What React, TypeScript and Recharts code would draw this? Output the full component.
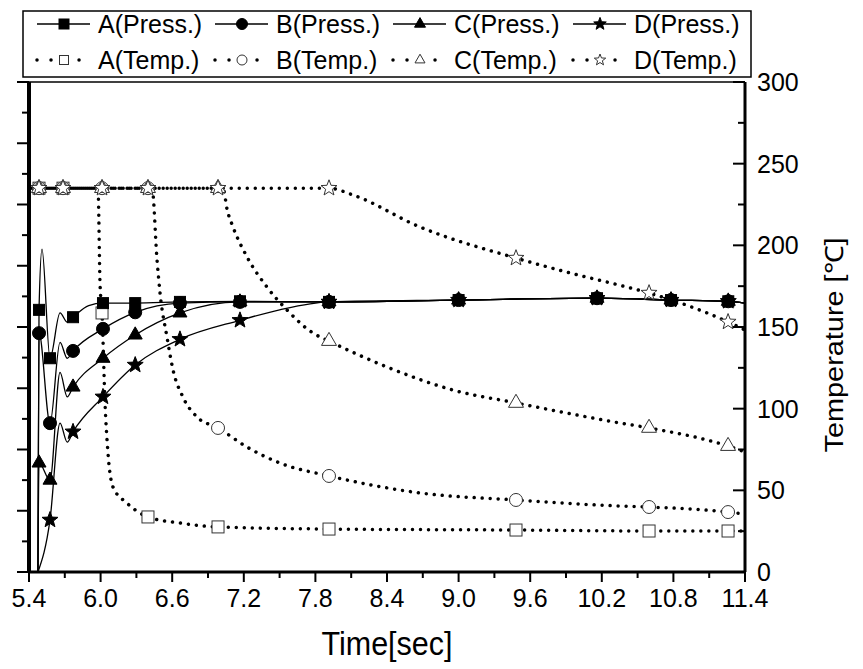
import { LineChart, Line, XAxis, YAxis, ReferenceLine } from 'recharts';

// time [sec] / pressure pairs
const pressA = [[5.475, 0], [5.484, 4.28], [5.509, 5.27], [5.576, 3.49], [5.66, 4.23], [5.72, 4.08], [5.769, 4.16], [5.9, 4.35], [6.02, 4.39], [6.29, 4.39], [6.665, 4.41], [7.168, 4.42], [7.914, 4.41], [9.0, 4.44], [10.16, 4.47], [10.78, 4.44], [11.26, 4.42], [11.4, 4.39]];
const pressB = [[5.475, 0], [5.484, 3.9], [5.576, 2.43], [5.66, 3.75], [5.72, 3.49], [5.769, 3.61], [6.02, 3.97], [6.29, 4.24], [6.665, 4.39], [7.168, 4.41], [7.914, 4.41], [9.0, 4.44], [10.16, 4.47], [10.78, 4.44], [11.26, 4.42], [11.4, 4.39]];
const pressC = [[5.475, 0], [5.484, 1.78], [5.576, 1.5], [5.66, 3.26], [5.72, 2.86], [5.769, 3.02], [6.02, 3.49], [6.29, 3.87], [6.665, 4.23], [7.168, 4.41], [7.914, 4.41], [9.0, 4.44], [10.16, 4.47], [10.78, 4.44], [11.26, 4.42], [11.4, 4.39]];
const pressD = [[5.475, 0], [5.576, 0.85], [5.66, 2.43], [5.72, 2.12], [5.769, 2.29], [6.02, 2.86], [6.29, 3.38], [6.665, 3.8], [7.168, 4.11], [7.5, 4.28], [7.914, 4.41], [9.0, 4.44], [10.16, 4.47], [10.78, 4.44], [11.26, 4.42], [11.4, 4.39]];

// time [sec] / temperature [℃] pairs for the right axis
// (plateau start times differ slightly so the four dotted lines interleave into a solid band)
const tempA = [[5.467, 235], [5.484, 235], [5.685, 235], [5.978, 235], [5.995, 177], [6.012, 158.6], [6.037, 103.5], [6.062, 72.8], [6.104, 52], [6.221, 42.2], [6.397, 33.7], [6.665, 30], [6.984, 27.6], [7.914, 26.3], [9.481, 25.7], [10.596, 25.1], [11.258, 25.1], [11.4, 25.1]];
const tempB = [[5.4335, 235], [5.484, 235], [5.685, 235], [6.012, 235], [6.397, 235], [6.431, 235], [6.473, 191], [6.498, 170.8], [6.556, 143.9], [6.607, 123.7], [6.69, 107.1], [6.808, 94.9], [6.984, 88.2], [7.227, 76.5], [7.503, 66.7], [7.914, 58.8], [8.677, 48.4], [9.481, 44.1], [10.353, 40.4], [10.596, 39.8], [11.258, 36.7], [11.4, 35.5]];
const tempC = [[5.4502, 235], [5.484, 235], [5.685, 235], [6.012, 235], [6.397, 235], [6.984, 235], [7.026, 235], [7.06, 222], [7.11, 211.2], [7.227, 192.9], [7.394, 174.5], [7.562, 160.4], [7.78, 146.3], [7.914, 141.4], [8.4, 125.5], [8.953, 111.4], [9.481, 103.5], [10.353, 91.2], [10.596, 88.2], [11.258, 77.1], [11.4, 73.5]];
const tempD = [[5.4167, 235], [5.484, 235], [5.685, 235], [6.012, 235], [6.397, 235], [6.984, 235], [7.914, 235], [8.115, 230.8], [8.677, 211.2], [9.481, 192.2], [9.934, 183.1], [10.353, 175.5], [10.596, 170.8], [11.258, 153.1], [11.4, 148.2]];

// times at which symbols are drawn
const pressMarks = [5.484, 5.576, 5.769, 6.02, 6.29, 6.665, 7.168, 7.914, 9.0, 10.16, 10.78, 11.26];
const tempMarks = [5.484, 5.685, 6.012, 6.397, 6.984, 7.914, 9.481, 10.596, 11.258];

const timeTicks = [5.4, 5.7, 6.0, 6.3, 6.6, 6.9, 7.2, 7.5, 7.8, 8.1, 8.4, 8.7, 9.0, 9.3, 9.6, 9.9, 10.2, 10.5, 10.8, 11.1, 11.4];
const pressTicks = [0, 0.5, 1, 1.5, 2, 2.5, 3, 3.5, 4, 4.5, 5, 5.5, 6, 6.5, 7, 7.5, 8];
const tempTicks = [0, 25, 50, 75, 100, 125, 150, 175, 200, 225, 250, 275, 300];

const letters = ['A', 'B', 'C', 'D'];
const shapes = ['square', 'circle', 'triangle', 'star'];
const pressSeries = [pressA, pressB, pressC, pressD];
const tempSeries = [tempA, tempB, tempC, tempD];

const FONT = '"Liberation Sans", Arial, sans-serif';
const DOT_GAP = 8;

const toRows = (pairs: number[][]) => pairs.map(([t, v]) => ({ t, v }));

function starPoints(cx: number, cy: number, r: number) {
  const pts: string[] = [];
  for (let i = 0; i < 10; i++) {
    const rr = i % 2 ? r * 0.42 : r;
    const a = -Math.PI / 2 + (i * Math.PI) / 5;
    pts.push(`${cx + rr * Math.cos(a)},${cy + rr * Math.sin(a)}`);
  }
  return pts.join(' ');
}

function Marker({ shape, cx, cy, size, filled }: { shape: string; cx: number; cy: number; size: number; filled: boolean }) {
  const fill = filled ? '#000' : '#fff';
  const stroke = filled ? '#000' : '#333';
  const sw = 1;
  if (shape === 'square') {
    return <rect x={cx - size / 2} y={cy - size / 2} width={size} height={size} fill={fill} stroke={stroke} strokeWidth={sw} />;
  }
  if (shape === 'circle') {
    return <circle cx={cx} cy={cy} r={size / 2} fill={fill} stroke={stroke} strokeWidth={sw} />;
  }
  if (shape === 'triangle') {
    const h = size * 0.87;
    return (
      <polygon
        points={`${cx},${cy - (h * 2) / 3} ${cx - size / 2},${cy + h / 3} ${cx + size / 2},${cy + h / 3}`}
        fill={fill}
        stroke={stroke}
        strokeWidth={sw}
      />
    );
  }
  return <polygon points={starPoints(cx, cy, size * 0.6)} fill={fill} stroke={stroke} strokeWidth={sw} />;
}

const makeDot = (marks: number[], shape: string, filled: boolean, size: number) => (props: any) => {
  const { cx, cy, payload, index } = props;
  if (cx == null || cy == null || !marks.some((m) => Math.abs(m - payload.t) < 1e-4)) return <g key={index} />;
  return (
    <g key={index}>
      <Marker shape={shape} cx={cx} cy={cy} size={size} filled={filled} />
    </g>
  );
};

const BottomTick = (props: any) => {
  const { x, y, payload } = props;
  const v = payload.value;
  const major = Math.round((v - 5.4) / 0.3) % 2 === 0;
  return (
    <g>
      <line x1={x} x2={x} y1={y} y2={y + (major ? 10 : 6)} stroke="#000" strokeWidth={2} />
      {major && (
        <text x={x} y={y + 35} textAnchor="middle" fontSize={25} fontFamily={FONT} fill="#000">
          {v.toFixed(1)}
        </text>
      )}
    </g>
  );
};

const LeftTick = (props: any) => {
  const { x, y, payload } = props;
  const major = Number.isInteger(payload.value);
  return <line x1={x - (major ? 12 : 7)} x2={x} y1={y} y2={y} stroke="#000" strokeWidth={2} />;
};

const RightTick = (props: any) => {
  const { x, y, payload } = props;
  const v = payload.value;
  const major = v % 50 === 0;
  return (
    <g>
      <line x1={x - (major ? 12 : 7)} x2={x} y1={y} y2={y} stroke="#000" strokeWidth={2} />
      {major && (
        <text x={x + 12} y={y + 9} textAnchor="start" fontSize={25} fontFamily={FONT} fill="#000">
          {v}
        </text>
      )}
    </g>
  );
};

function LegendBox() {
  const starts = [37, 215, 393, 573];
  return (
    <svg width={863} height={90} style={{ position: 'absolute', left: 0, top: 0, pointerEvents: 'none' }}>
      <rect x={23} y={11} width={728} height={66} fill="#fff" stroke="#000" strokeWidth={1.5} />
      {letters.map((l, i) => (
        <g key={l}>
          <line x1={starts[i]} x2={starts[i] + 53} y1={24} y2={24} stroke="#000" strokeWidth={1.3} />
          <Marker shape={shapes[i]} cx={starts[i] + 27} cy={24} size={shapes[i] === 'square' ? 10 : 11} filled />
          <text x={starts[i] + 61} y={33} fontSize={25} fontFamily={FONT} fill="#000">
            {`${l}(Press.)`}
          </text>
          <line
            x1={starts[i]}
            x2={starts[i] + 53}
            y1={60}
            y2={60}
            stroke="#000"
            strokeWidth={3.5}
            strokeLinecap="round"
            strokeDasharray={`0.01 14`}
          />
          <Marker shape={shapes[i]} cx={starts[i] + 27} cy={60} size={shapes[i] === 'square' ? 9 : 10} filled={false} />
          <text x={starts[i] + 61} y={69} fontSize={25} fontFamily={FONT} fill="#000">
            {`${l}(Temp.)`}
          </text>
        </g>
      ))}
    </svg>
  );
}

export default function App() {
  return (
    <div style={{ position: 'absolute', left: 0, top: 0, width: 863, height: 669, background: '#fff', fontFamily: FONT }}>
      <LineChart width={863} height={669} margin={{ top: 82, right: 0, bottom: 0, left: 0 }}>
        <XAxis
          dataKey="t"
          type="number"
          domain={[5.4, 11.4]}
          ticks={timeTicks}
          interval={0}
          height={97}
          tickSize={0}
          tickMargin={0}
          tickLine={false}
          tick={<BottomTick />}
          axisLine={{ stroke: '#000', strokeWidth: 3 }}
          allowDataOverflow
          label={{
            content: (p: any) => {
              const vb = p.viewBox ?? { x: 29, y: 572, width: 716, height: 97 };
              return (
                <text
                  x={vb.x + vb.width / 2}
                  y={vb.y + 83}
                  textAnchor="middle"
                  fontSize={33}
                  fontFamily={FONT}
                  textLength={131}
                  lengthAdjust="spacingAndGlyphs"
                  fill="#000"
                >
                  Time[sec]
                </text>
              );
            },
          }}
        />
        <YAxis
          yAxisId="p"
          orientation="left"
          type="number"
          domain={[0, 8]}
          ticks={pressTicks}
          interval={0}
          width={29}
          tickSize={0}
          tickMargin={0}
          tickLine={false}
          tick={<LeftTick />}
          axisLine={{ stroke: '#000', strokeWidth: 4 }}
        />
        <YAxis
          yAxisId="T"
          orientation="right"
          type="number"
          domain={[0, 300]}
          ticks={tempTicks}
          interval={0}
          width={118}
          tickSize={0}
          tickMargin={0}
          tickLine={false}
          tick={<RightTick />}
          axisLine={{ stroke: '#000', strokeWidth: 3 }}
          label={{
            content: (p: any) => {
              const vb = p.viewBox ?? { x: 745, y: 82, width: 118, height: 490 };
              const cx = vb.x + 98;
              const cy = vb.y + vb.height / 2 + 18;
              return (
                <text
                  transform={`translate(${cx}, ${cy}) rotate(-90)`}
                  textAnchor="middle"
                  fontSize={25}
                  fontFamily={FONT}
                  textLength={215}
                  lengthAdjust="spacingAndGlyphs"
                  fill="#000"
                >
                  Temperature [℃]
                </text>
              );
            },
          }}
        />
        <ReferenceLine yAxisId="T" y={300} stroke="#000" strokeWidth={1.5} />
        {tempSeries.map((s, i) => (
          <Line
            key={`T${letters[i]}`}
            yAxisId="T"
            data={toRows(s)}
            dataKey="v"
            type="monotone"
            stroke="#000"
            strokeWidth={3.5}
            strokeLinecap="round"
            strokeDasharray={`0.01 ${DOT_GAP}`}
            dot={makeDot(tempMarks, shapes[i], false, [12, 13, 15, 14][i])}
            activeDot={false}
            isAnimationActive={false}
          />
        ))}
        {pressSeries.map((s, i) => (
          <Line
            key={`P${letters[i]}`}
            yAxisId="p"
            data={toRows(s)}
            dataKey="v"
            type="monotone"
            stroke="#000"
            strokeWidth={1.3}
            dot={makeDot(pressMarks, shapes[i], true, [11, 13, 14, 14][i])}
            activeDot={false}
            isAnimationActive={false}
          />
        ))}
      </LineChart>
      <LegendBox />
    </div>
  );
}
